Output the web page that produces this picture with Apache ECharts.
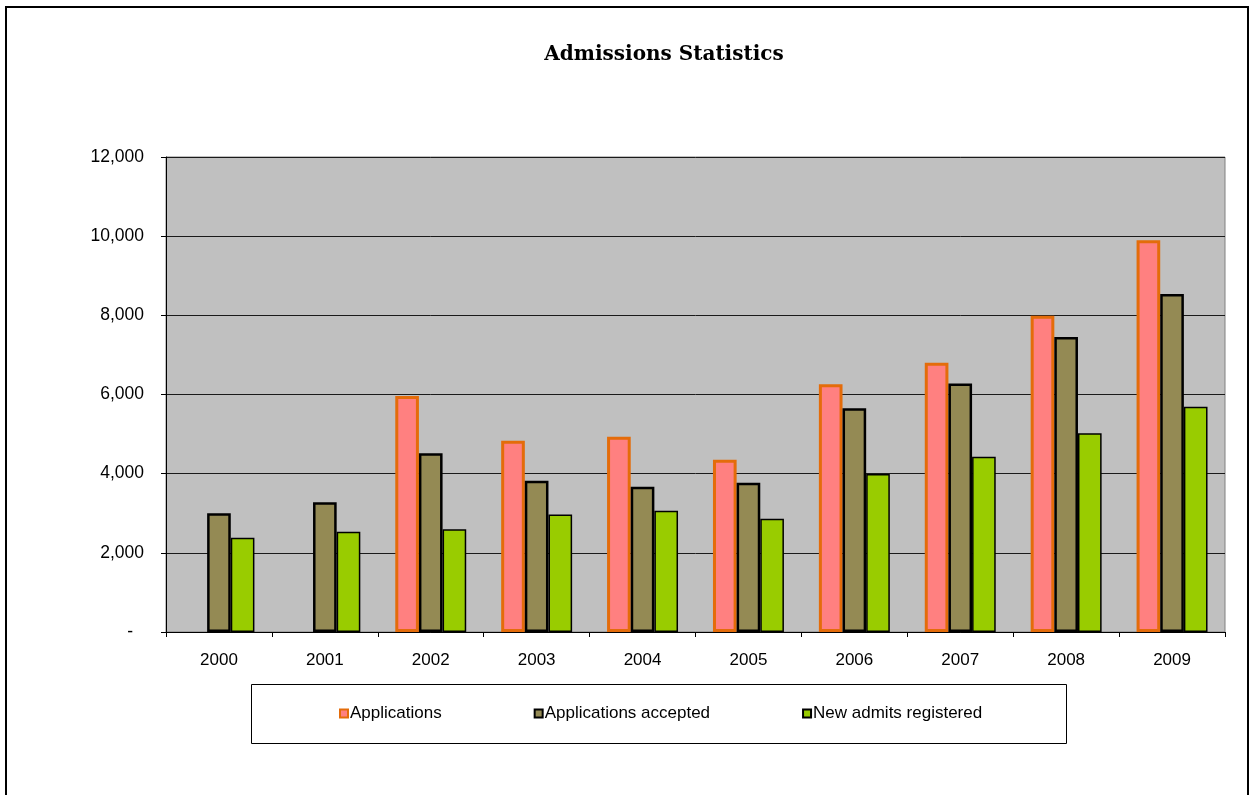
<!DOCTYPE html>
<html>
<head>
    <meta charset="utf-8">
    <title>Admissions Statistics</title>
    <script src="https://cdn.jsdelivr.net/npm/echarts@6/dist/echarts.min.js"></script>
    <style type="text/css">
        html, body {
            margin: 0;
            padding: 0;
            background: #ffffff;
        }
        #chart {
            width: 1250px;
            height: 795px;
        }
    </style>
</head>
<body>
<div id="chart"></div>
<script>
    // 数据
    var years = ['2000', '2001', '2002', '2003', '2004', '2005', '2006', '2007', '2008', '2009'];
    var applications = [null, null, 5960, 4830, 4930, 4350, 6260, 6800, 7990, 9900];
    var accepted = [3000, 3280, 4515, 3820, 3670, 3770, 5650, 6280, 7450, 8540];
    var registered = [2380, 2535, 2595, 2970, 3065, 2860, 3990, 4430, 5020, 5690];
    var seriesNames = ['Applications', 'Applications accepted', 'New admits registered'];

    var labelFont = 'Liberation Sans, Arial, sans-serif';
    var chart = echarts.init(document.getElementById('chart'), null, {renderer: 'canvas'});

    var option = {
        backgroundColor: '#ffffff',
        animation: false,
        title: {
            text: 'Admissions Statistics',
            left: 659,
            top: 40,
            textAlign: 'center',
            textStyle: {
                fontFamily: 'DejaVu Serif, serif',
                fontWeight: 'bold',
                fontSize: 20,
                color: '#000'
            }
        },
        graphic: [
            {
                // 外框
                type: 'rect',
                shape: {x: 6, y: 7, width: 1242, height: 800},
                style: {fill: 'none', stroke: '#000', lineWidth: 2},
                silent: true
            },
            {
                // 图例框
                type: 'rect',
                shape: {x: 251.5, y: 684.5, width: 815, height: 59},
                style: {fill: '#fff', stroke: '#000', lineWidth: 1},
                silent: true,
                z: 0
            }
        ],
        legend: {
            data: seriesNames,
            left: 339,
            top: 705,
            itemWidth: 8,
            itemHeight: 8,
            itemGap: 92,
            icon: 'rect',
            padding: 0,
            z: 5,
            textStyle: {
                fontFamily: labelFont,
                fontSize: 17,
                color: '#000',
                padding: [0, 0, 0, -3]
            }
        },
        grid: {
            left: 166,
            right: 25,
            top: 157,
            bottom: 163,
            show: true,
            backgroundColor: '#c0c0c0',
            borderColor: '#808080',
            borderWidth: 1
        },
        xAxis: {
            type: 'category',
            data: years,
            axisLine: {lineStyle: {color: '#000', width: 1}},
            axisTick: {show: true, length: 5, lineStyle: {color: '#000'}},
            axisLabel: {
                margin: 20,
                fontFamily: labelFont,
                fontSize: 17,
                color: '#000'
            }
        },
        yAxis: {
            type: 'value',
            min: 0,
            max: 12000,
            interval: 2000,
            axisLine: {show: true, lineStyle: {color: '#000', width: 1}},
            axisTick: {show: true, length: 5, lineStyle: {color: '#000'}},
            splitLine: {lineStyle: {color: '#1a1a1a', width: 1}},
            axisLabel: {
                margin: 22,
                fontFamily: labelFont,
                fontSize: 17.5,
                color: '#000',
                formatter: function (v) {
                    if (v === 0) {
                        return '{dash|-}';
                    }
                    return v.toLocaleString('en-US');
                },
                rich: {
                    dash: {
                        fontFamily: labelFont,
                        fontSize: 17.5,
                        color: '#000',
                        padding: [0, 11, 0, 0]
                    }
                }
            }
        },
        series: [
            {
                name: seriesNames[0],
                type: 'bar',
                data: applications,
                barGap: '0%',
                barCategoryGap: '33%',
                itemStyle: {color: '#ff8080', borderColor: '#e46c0a', borderWidth: 3}
            },
            {
                name: seriesNames[1],
                type: 'bar',
                data: accepted,
                itemStyle: {color: '#948a54', borderColor: '#000', borderWidth: 2.5}
            },
            {
                name: seriesNames[2],
                type: 'bar',
                data: registered,
                itemStyle: {color: '#99cc00', borderColor: '#000', borderWidth: 1.5}
            }
        ]
    };
    chart.setOption(option);
</script>
</body>
</html>
